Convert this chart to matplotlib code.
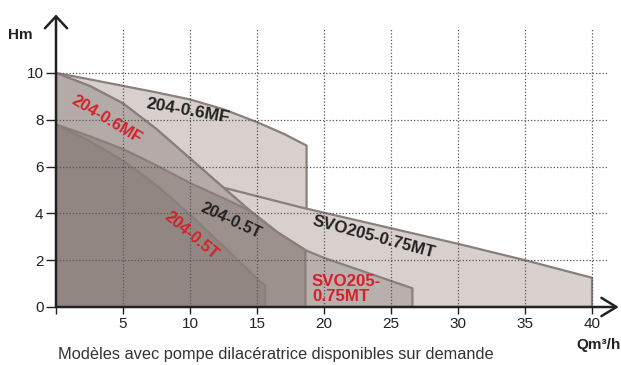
import matplotlib
matplotlib.use("Agg")
import matplotlib.pyplot as plt

plt.rcParams['font.family'] = ['Liberation Sans', 'DejaVu Sans']

# courbes débit (m3/h) / hauteur (m)
q_06mf = [0, 2.5, 5, 7.5, 10, 12.5, 15, 17, 18.7]
h_06mf = [10, 9.73, 9.45, 9.17, 8.87, 8.45, 7.9, 7.4, 6.9]

q_svo_t = [0, 12.5, 18.2, 30, 35, 40]
h_svo_t = [6.9, 5.1, 4.27, 2.7, 2.0, 1.25]

q_svo_m = [0, 2.5, 5, 7.5, 10, 12.5, 14.5, 16.5, 18.6, 20, 26.6]
h_svo_m = [10, 9.45, 8.7, 7.6, 6.35, 5.1, 4.1, 3.2, 2.43, 2.1, 0.8]

q_06mf_m = [0, 2.5, 5, 7.5, 10, 12.5, 14.5, 16.5, 18.6]
h_06mf_m = [10, 9.45, 8.7, 7.6, 6.35, 5.1, 4.1, 3.2, 2.43]

q_05t = [0, 2.5, 5, 7.5, 10, 12.5, 14.5, 16.5, 18.6]
h_05t = [7.8, 7.3, 6.75, 6.05, 5.3, 4.65, 4.1, 3.2, 2.43]

q_05t_m = [0, 2.5, 5, 7.5, 10, 12.5, 15.1, 15.6]
h_05t_m = [7.8, 7.1, 6.25, 5.2, 3.95, 2.6, 1.15, 0.92]

x_ticks = [0, 5, 10, 15, 20, 25, 30, 35, 40]
x_labels = ['', '5', '10', '15', '20', '25', '30', '35', '40']
y_ticks = [0, 2, 4, 6, 8, 10]

edge = '#8b7f7b'
red = '#d2232a'
dark = '#222222'

fig = plt.figure(figsize=(6.21, 3.65), dpi=100)
ax = fig.add_axes([56 / 621, 58 / 365, 562.8 / 621, 292.5 / 365])
ax.set_xlim(0, 42)
ax.set_ylim(0, 12.5)


def zone(q, h, color, z):
    xs = [q[0]] + list(q) + [q[-1]]
    ys = [0] + list(h) + [0]
    ax.fill(xs, ys, facecolor=color, edgecolor=edge, lw=1.6, zorder=z,
            joinstyle='round')


# du plus clair (derrière) au plus foncé (devant)
zone(q_06mf, h_06mf, '#d8d0cd', 1)
zone(q_svo_t, h_svo_t, '#d8d0cd', 2)
zone(q_svo_m, h_svo_m, '#b9afac', 3)
zone(q_06mf_m, h_06mf_m, '#b4aaa7', 4)
zone(q_05t, h_05t, '#9d918d', 5)
zone(q_05t_m, h_05t_m, '#918682', 6)

# quadrillage pointillé
ax.vlines(x_ticks[1:], 0, 11.9, colors='#555555', lw=0.9,
          linestyles=(0, (1, 1.6)), zorder=7)
ax.hlines(y_ticks[1:], 0, 41.2, colors='#555555', lw=0.9,
          linestyles=(0, (1, 1.6)), zorder=7)

# axes avec flèches
for s in ax.spines.values():
    s.set_visible(False)
ax.annotate('', xy=(42, 0), xytext=(0, 0), annotation_clip=False,
            arrowprops=dict(arrowstyle='->,head_length=10.8,head_width=6.6',
                            mutation_scale=1, lw=1.8, color=dark,
                            shrinkA=0, shrinkB=0), zorder=9)
ax.annotate('', xy=(0, 12.5), xytext=(0, 0), annotation_clip=False,
            arrowprops=dict(arrowstyle='->,head_length=8.6,head_width=8',
                            mutation_scale=1, lw=1.8, color=dark,
                            shrinkA=0, shrinkB=0), zorder=9)

ax.set_xticks(x_ticks)
ax.set_xticklabels(x_labels)
ax.set_yticks(y_ticks)
ax.tick_params(axis='both', colors=dark, labelsize=11, width=1, length=7, pad=2)
ax.tick_params(axis='x', length=5)

ax.text(-0.041, 0.93, 'Hm', transform=ax.transAxes, fontsize=11,
        fontweight='bold', color=dark, ha='right', va='center')
fig.text(0.999, 0.055, 'Qm³/h', fontsize=11, fontweight='bold',
         color=dark, ha='right', va='center')
fig.text(58 / 621, 10 / 365, 'Modèles avec pompe dilacératrice disponibles sur demande',
         fontsize=11.8, color='#333333', ha='left', va='center')

# étiquettes des courbes
lab = dict(fontweight='bold', ha='center', va='center', zorder=10)
ax.text(9.85, 8.4, '204-0.6MF', color=dark, rotation=-10, fontsize=12.6, **lab)
ax.text(3.8, 8.0, '204-0.6MF', color=red, rotation=-31, fontsize=11.8, **lab)
ax.text(13.05, 3.7, '204-0.5T', color=dark, rotation=-25, fontsize=11.8, **lab)
ax.text(10.1, 3.07, '204-0.5T', color=red, rotation=-40, fontsize=11.8, **lab)
ax.text(23.7, 3.0, 'SVO205-0.75MT', color=dark, rotation=-15, fontsize=12.2, **lab)
ax.text(19.1, 0.77, 'SVO205-\n0.75MT', color=red, fontsize=12.2,
        fontweight='bold', ha='left', va='center', linespacing=0.95, zorder=10)

fig.savefig('out.png', dpi=100)
